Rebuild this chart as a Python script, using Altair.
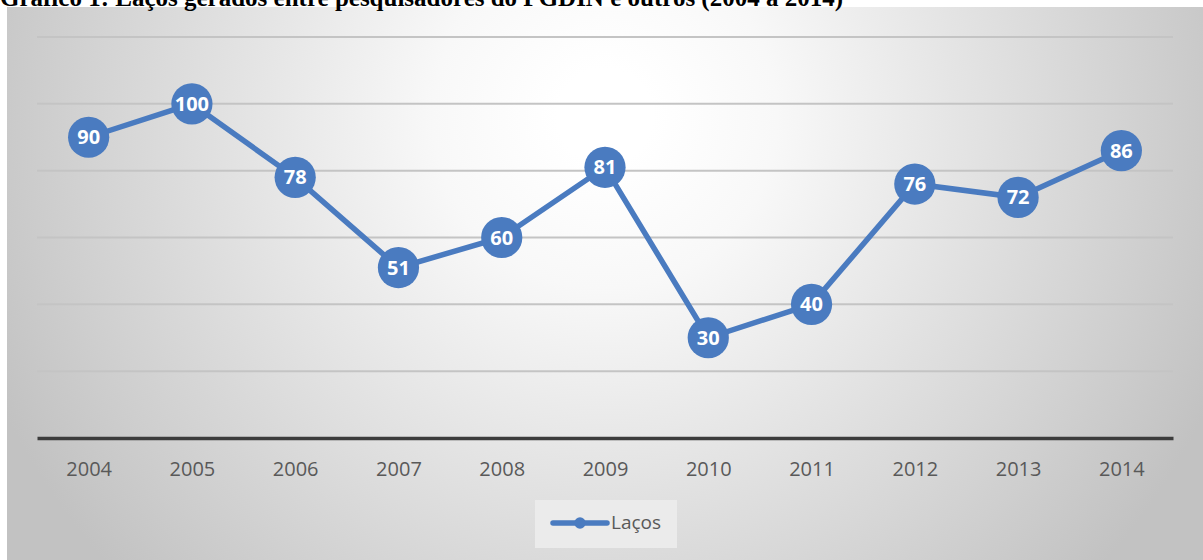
import altair as alt
import pandas as pd

years = ["2004", "2005", "2006", "2007", "2008", "2009", "2010", "2011", "2012", "2013", "2014"]
values = [90, 100, 78, 51, 60, 81, 30, 40, 76, 72, 86]
grid_values = [20, 40, 60, 80, 100, 120]
series_name = "Laços"
title_text = "Gráfico 1: Laços gerados entre pesquisadores do PGDIN e outros (2004 a 2014)"

df = pd.DataFrame({"ano": years, "valor": values, "serie": [series_name] * len(years)})
grid_df = pd.DataFrame({"g": grid_values})
one = pd.DataFrame({"serie": [series_name]})

BLUE = "#4a7bc0"
W, H = 1136, 401

grad = alt.RadialGradient(
    gradient="radial",
    x1=0.5, y1=0.36, r1=0.04,
    x2=0.5, y2=0.36, r2=0.56,
    stops=[
        alt.GradientStop(offset=0, color="#ffffff"),
        alt.GradientStop(offset=0.2, color="#f8f8f8"),
        alt.GradientStop(offset=1, color="#c2c2c2"),
    ],
)

bg = alt.Chart(one).mark_rect(fill=grad, strokeWidth=0).encode(
    x=alt.value(-30), x2=alt.value(1166), y=alt.value(-30), y2=alt.value(523)
)

yscale = alt.Scale(domain=[0, 120], nice=False, zero=True)

grid = alt.Chart(grid_df).mark_rule(color="#c4c4c4", strokeWidth=2).encode(
    y=alt.Y("g:Q", scale=yscale, axis=None), x=alt.value(0), x2=alt.value(W)
)

x_enc = alt.X(
    "ano:N",
    sort=years,
    scale=alt.Scale(paddingInner=1, paddingOuter=0.5),
    axis=alt.Axis(
        title=None, labelAngle=0, ticks=False, domain=True, domainColor="#3c3c3c",
        domainWidth=3.5, labelFont="Open Sans", labelFontSize=20, labelColor="#595959",
        labelPadding=21, grid=False, zindex=1,
    ),
)
y_enc = alt.Y("valor:Q", scale=yscale, axis=None)

line = alt.Chart(df).mark_line(strokeWidth=5.5, color=BLUE).encode(x=x_enc, y=y_enc)
pts = alt.Chart(df).mark_point(filled=True, size=1700, opacity=1, shape="circle", color=BLUE).encode(
    x=alt.X("ano:N", sort=years), y="valor:Q"
)
labels = alt.Chart(df).mark_text(
    color="white", font="Open Sans", fontWeight="bold", fontSize=20, baseline="middle", align="center", dy=1
).encode(x=alt.X("ano:N", sort=years), y="valor:Q", text="valor:Q")

# legend (manual, Excel style box)
leg_box = alt.Chart(one).mark_rect(fill="#ebebeb", strokeWidth=0).encode(
    x=alt.value(498), x2=alt.value(640), y=alt.value(463), y2=alt.value(511)
)
leg_line = alt.Chart(one).mark_rule(color=BLUE, strokeWidth=5.5, strokeCap="round").encode(
    x=alt.value(516), x2=alt.value(570), y=alt.value(486)
)
leg_pt = alt.Chart(one).mark_point(filled=True, size=130, opacity=1, shape="circle", color=BLUE).encode(
    x=alt.value(543), y=alt.value(486)
)
leg_txt = alt.Chart(one).mark_text(
    font="Open Sans", fontSize=19, color="#595959", align="left", baseline="middle"
).encode(x=alt.value(574), y=alt.value(486), text="serie:N")

title = alt.Chart(one).mark_text(
    font="Liberation Serif", fontSize=25, fontWeight="bold", color="#000000", align="left", baseline="alphabetic"
).encode(x=alt.value(-37), y=alt.value(-31), text=alt.value(title_text))

chart = alt.layer(bg, grid, line, pts, labels, leg_box, leg_line, leg_pt, leg_txt, title).properties(
    width=W, height=H,
    padding={"left": 37, "top": 37, "right": 30, "bottom": 122},
    autosize=alt.AutoSizeParams(type="none"),
).configure_view(stroke=None).configure(background="white")

chart.save("out.html", embed_options={"renderer": "svg", "actions": False})
